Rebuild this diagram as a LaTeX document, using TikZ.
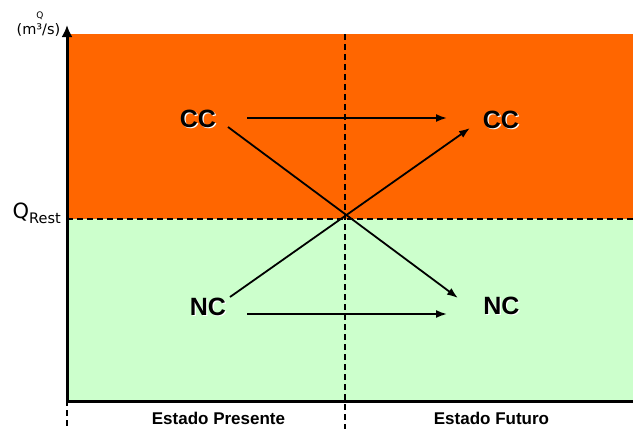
\documentclass[tikz,border=0pt]{standalone}
\usepackage{fontspec}
\setmainfont{Liberation Sans}
\newfontfamily\vfont{DejaVu Sans}
\usetikzlibrary{arrows.meta}
\definecolor{hot}{HTML}{FF6600}
\definecolor{mint}{HTML}{CCFFCC}
\newcommand{\shtext}[1]{\makebox[0pt][l]{\hspace{1.2pt}\raisebox{-1.2pt}{\color{white}#1}}#1}
\tikzset{
  state/.style={inner sep=0pt, font=\fontsize{25}{25}\selectfont\bfseries},
  axisline/.style={line width=3pt},
  divline/.style={line width=1.4pt, dash pattern=on 6pt off 4pt},
  conn/.style={line width=1.8pt, -{Latex[length=11pt,width=8pt]}},
  period/.style={inner sep=0pt, font=\fontsize{17}{17}\selectfont\bfseries},
}
\begin{document}
\begin{tikzpicture}[x=1pt,y=-1pt]
\useasboundingbox (0,0) rectangle (633,429);
% regions
\fill[hot] (67,34) rectangle (633,219);
\fill[mint] (67,219) rectangle (633,400);
% dashed dividers
\draw[divline] (67,219) -- (633,219);
\draw[divline] (345,34) -- (345,429);
\draw[divline] (67,400) -- (67,429);
% axes
\coordinate (origin) at (67,401.5);
\coordinate (ytip) at (67,25);
\coordinate (xend) at (633,401.5);
\draw[axisline, -{Latex[length=12pt,width=11pt]}] (origin) -- (ytip);
\draw[axisline] (origin) -- (xend);
% axis labels
\node[inner sep=0pt, font=\vfont\fontsize{9}{9}\selectfont] (qlab) at (40,15.5) {Q};
\node[inner sep=0pt, font=\vfont\fontsize{14.5}{14.5}\selectfont] (ulab) at (38.5,30) {(m³/s)};
\node[inner sep=0pt, anchor=base east] (qrest) at (61,218)
  {\vfont\fontsize{21}{21}\selectfont Q\raisebox{-5pt}{\fontsize{14.5}{14.5}\selectfont Rest}};
% states
\node[state] (ccl) at (198,119.5) {\shtext{CC}};
\node[state] (ccr) at (501,120) {\shtext{CC}};
\node[state] (ncl) at (208,307) {\shtext{NC}};
\node[state] (ncr) at (501.5,306) {\shtext{NC}};
% connectors
\draw[conn] ([shift={(49,-1.5)}]ccl.center) -- ([shift={(-54,-2)}]ccr.center);
\draw[conn] ([shift={(39,7)}]ncl.center) -- ([shift={(-54.5,8)}]ncr.center);
\draw[conn] ([shift={(30,7.5)}]ccl.center) -- ([shift={(-43.5,-8)}]ncr.center);
\draw[conn] ([shift={(22,-10)}]ncl.center) -- ([shift={(-31,8)}]ccr.center);
% periods
\node[period] (pres) at (218.5,418) {Estado Presente};
\node[period] (fut) at (491.5,418) {Estado Futuro};
\end{tikzpicture}
\end{document}
